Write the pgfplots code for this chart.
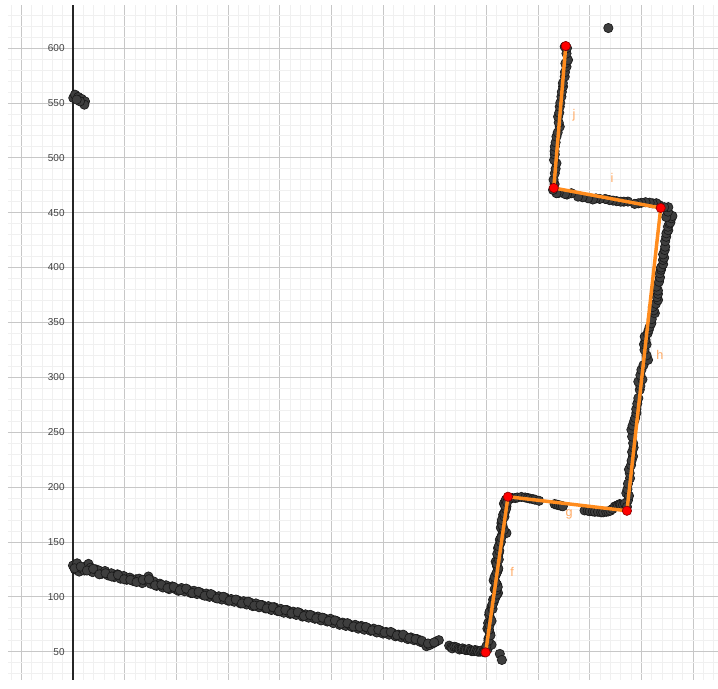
\documentclass[border=0pt]{standalone}
\usepackage{fontspec}
\setmainfont{Liberation Sans}
\usepackage{pgfplots}
\pgfplotsset{compat=1.18}
\definecolor{ggorange}{RGB}{255,140,30}
\definecolor{gglabel}{RGB}{255,170,100}
\definecolor{ggpoint}{RGB}{62,62,62}
\begin{document}
\begin{tikzpicture}
\begin{axis}[
  scale only axis, width=532.5pt, height=506.25pt,
  xmin=-62.9, xmax=623.8, ymin=24.5, ymax=639.2,
  axis line style={draw=none},
  xtick={-100,-50,...,650}, xticklabels={},
  ytick={0,50,...,650},
  minor tick num=4,
  grid=both,
  major grid style={draw=black!22, line width=0.5pt},
  minor grid style={draw=black!6, line width=0.5pt},
  major tick length=0pt, minor tick length=0pt,
  ytick pos=left,
  yticklabel style={font=\fontsize{7.5}{9}\selectfont, text=black!75, anchor=east, xshift=46pt},
  /pgf/number format/assume math mode=true,
  clip=true, clip mode=individual,
]
\draw[black!85, line width=0.8pt] (axis cs:0,24.5) -- (axis cs:0,639.2);
\addplot[only marks, mark=*, mark size=3.5pt, mark options={fill=ggpoint, draw=black!90, line width=0.5pt}] table {
x y
0 128.5
2 125
4 130.5
6 123
8 126
11 124
13 128
15 130
17 126.5
19 122.5
22 125
25 124
28 121
31 123.5
34 119.5
37 121.5
40 118
43 120.5
46 116.5
49 119
52 115.5
55 117.5
58 114.5
61 116
64 116.5
67 112.5
70 115
73 118.5
75 112
78 114
81 110
84 112
87 108.5
90 110.5
93 107
96 109.5
99 107
102 105.5
105 108
108 105
111 106.5
114 103.5
117 105.5
120 102.5
123 104
126 101.5
129 103
132 100
135 101.5
138 99
141 100.5
144 97.5
147 99.5
150 96.5
153 98
156 95.5
159 97
162 94
165 96
168 93
171 95
174 91.5
177 94
180 90.5
183 92.5
186 89.5
189 91.5
192 88
195 90.5
198 87
201 89
204 85.5
207 88
210 84.5
213 86.5
216 83.5
219 85.5
222 82
225 84
228 81
231 83
234 80
237 82
240 78.5
243 80.5
246 77.5
249 80
252 76
255 78
258 74.5
261 76.5
264 73.5
267 75
270 72.5
273 74.5
276 71
279 73.5
282 70
285 71.5
288 69
291 71
294 67.5
297 69.5
300 66.5
303 68
306 65.5
309 67
312 64
315 65.5
318 63
321 64
324 61.5
327 63
330 60.5
333 61.5
336 59
339 58
342 55
345 56
348 57.5
351 59
354 60.5
1.5 126
7.5 127.5
13.5 124
19.5 125.5
25.5 120.5
31.5 121.5
37.5 118.5
43.5 120
49.5 116
55.5 115.5
61.5 113.5
67.5 115.5
73.5 116
79.5 110.5
85.5 111
91.5 108
97.5 109
103.5 106
109.5 107.5
115.5 103.5
121.5 104.5
127.5 101
133.5 102.5
139.5 98.5
145.5 100
151.5 96.5
157.5 97.5
163.5 94
169.5 95.5
175.5 92
181.5 92.5
187.5 89.5
193.5 90.5
199.5 87
205.5 88
211.5 85
217.5 86
223.5 82.5
229.5 83.5
235.5 80.5
241.5 81
247.5 78
253.5 78.5
259.5 75.5
265.5 76
271.5 73
277.5 72.5
283.5 72.5
289.5 69.5
295.5 70
301.5 67.5
307.5 68
313.5 65
319.5 65.5
325.5 62.5
331.5 61.5
337.5 60
343.5 57.5
349.5 58.5
364 55.5
366 54
367 53
369 54.5
371 54
373 53
374 52
376 52.5
377 53
379 52
380 51.5
382 51.5
383 52.5
385 51
386 50.5
388 50.5
389 51.5
391 51
392 50
394 50
395 51
397 50
398 49.5
413 48
415 42.5
401 52
403 58
405 56.3
402 62
403.3 67
401 71
401.7 76.1
404 80
402.7 83.7
404 88
405 91.3
407 95
406.5 97.4
409 100
411.3 103.5
408 107
410.4 111
407 115
409.1 120.1
411 124
410.4 127.7
409 132
411.3 136.8
412 140
411.3 144.4
413 148
413 152
415 156
416.2 159.6
419.4 158.1
414 163
414.6 167.2
416 171
416.2 174.8
418 178
419.4 182.3
417 185
418.8 188.4
400 55
402 60
404 65
402.5 70
403 74
405 78
403 86
406 89
406 93
408 98
410 102
409.5 106
411 109
409 113
408 118
410 122
411.5 126
410 130
412 134
410.5 139
412.5 142
412 146
414 150
414.5 154
417 161
415.5 165
415 170
417.5 173
417.5 176
419 180
418 183
420 186
425 190
428 190
430 190.5
433.9 191
437.5 190.5
440 190
442 189.5
445 189
447 188.5
451 187.5
466 184.5
468 184
470 183.5
472 183
474 182.5
495 178.7
498 178.5
500 178
503 177.8
505 177.5
508 177.5
511 177
513 177
516 177.5
518 177.8
520 178.5
522 180
524.2 182.3
526 183
527.4 183.3
529 184.5
530 184
532.2 183.8
535.4 194.5
537 188
534 185
536 182
538 192
536.5 198
539 208
538.7 212.7
537 203
538 216
541.9 227.9
540 220
540.5 224
541 232
542.5 236
542 240
541 246
540.3 252.2
541.5 256
543 260
544 263
545.1 267.4
545 271
546 276
547 281
548.4 288.6
549 292
547 296
551 298
549 302
550 306.8
552 311
556.4 315.9
555 320
553 325
552.5 330
555 330
554 334
553.2 337.1
556 340
557 343
558 346
559.6 349.2
560 353
563 358.4
562 361
561 364
564 367
566.1 370.5
565 373
566 376
566 379
564.5 382.6
567 387
568 391
567.7 394.8
569 398
569 400
571 403
570.9 406.9
572 409
571 412
572.6 416
573 419
573 424
574 428
574.2 431.2
576 434
575.7 437.2
577 440
578 441
579 444.9
580 447
574 446
575.7 450.9
576 455
572 455
567 457
564.5 458.6
561 458.5
558 459.1
554 459.5
550 459
547 458.5
543.5 458
537 460.1
533 460
530 460
526 460.5
522.5 461
519 461.5
515 462.5
509.7 462.5
506 463
503 462
498.4 463.1
493 464
488.7 464.6
482.3 467.7
478 466.5
476 467
470 468
467.8 467.7
464.5 470.7
466 476
465 480
466.2 485.9
467 490
467.8 495
465.5 498
466.2 503
466 506
466.2 510.1
467 514
467.8 519.2
469 523
471 528.3
470 532
469.4 537.4
470.5 541
471 546.5
471.5 550
472.6 555.7
473 560
474.2 564.8
474 568
475.8 573.9
476 578
477.5 583
476.5 586
479 589.1
477.5 595
478 600
475.8 601.2
518 618.2
0.3 554.5
1.9 557.5
5.1 555.4
8.4 553.6
11.6 551.4
11 548.4
6.8 551.4
3.6 553
};
\addplot[ggorange, line width=2.6pt, mark=none] coordinates {(399.3,49.4) (420.9,191.2) (536,178.4) (568.7,454.3) (465.2,472.5) (476.8,601.8)};
\addplot[only marks, mark=*, mark size=3.5pt, mark options={fill=red, draw=red!55!black, line width=0.5pt}] coordinates {(399.3,49.4) (420.9,191.2) (536,178.4) (568.7,454.3) (465.2,472.5) (476.8,601.8)};
\node[text=gglabel, font=\fontsize{9.5}{11}\selectfont] at (axis cs:424.8,122.5) {f};
\node[text=gglabel, font=\fontsize{9.5}{11}\selectfont] at (axis cs:480,175.3) {g};
\node[text=gglabel, font=\fontsize{9.5}{11}\selectfont] at (axis cs:568,320) {h};
\node[text=gglabel, font=\fontsize{9.5}{11}\selectfont] at (axis cs:521.6,481.9) {i};
\node[text=gglabel, font=\fontsize{9.5}{11}\selectfont] at (axis cs:484.9,539.2) {j};
\end{axis}
\path (current axis.south west) ++(-6pt,0pt) (current axis.north east) ++(0pt,3.75pt);
\end{tikzpicture}
\end{document}
